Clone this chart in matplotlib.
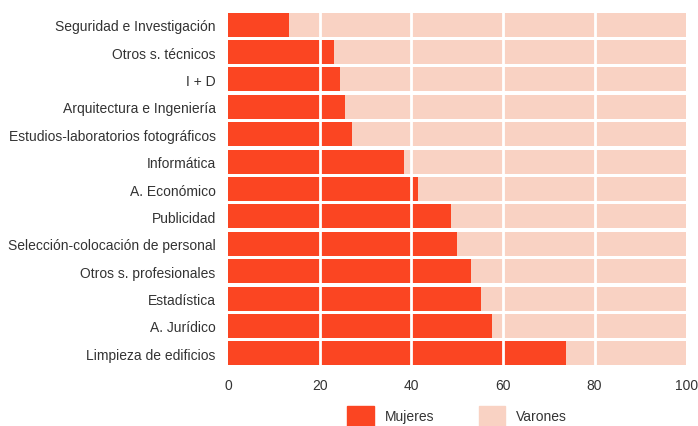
import numpy as np
from matplotlib import pyplot as plt
from matplotlib.patches import Patch

# categorias de arriba a abajo
sectores = ["Seguridad e Investigación", "Otros s. técnicos", "I + D",
            "Arquitectura e Ingeniería", "Estudios-laboratorios fotográficos",
            "Informática", "A. Económico", "Publicidad",
            "Selección-colocación de personal", "Otros s. profesionales",
            "Estadística", "A. Jurídico", "Limpieza de edificios"]
mujeres = [13.2, 23.0, 24.3, 25.5, 27.0, 38.4, 41.5, 48.6, 50.0, 53.1, 55.1, 57.5, 73.7]
varones = [100 - m for m in mujeres]
xticks = [0, 20, 40, 60, 80, 100]

rojo = "#fb4522"
rosa = "#f9d2c3"

plt.rcParams['font.family'] = ['Liberation Sans', 'DejaVu Sans']

fig = plt.figure(figsize=(6.98, 4.27), dpi=100)
ax = fig.add_axes([0.327, 0.138, 0.656, 0.834])

y = np.arange(len(sectores))
ax.barh(y, mujeres, height=0.88, color=rojo, zorder=2)
ax.barh(y, varones, left=mujeres, height=0.88, color=rosa, zorder=2)

for v in xticks[1:-1]:
    ax.axvline(v, color="white", lw=2, zorder=3)

ax.set_xlim(0, 100)
ax.set_ylim(len(sectores) - 0.5, -0.5)
ax.set_yticks(y)
ax.set_yticklabels(sectores, fontsize=10, color="#333333")
ax.set_xticks(xticks)
ax.set_xticklabels([str(v) for v in xticks], fontsize=10, color="#333333")
ax.tick_params(length=0, pad=8)
ax.tick_params(axis="y", pad=9)
for s in ax.spines.values():
    s.set_visible(False)

handles = [Patch(color=rojo, label="Mujeres"), Patch(color=rosa, label="Varones")]
fig.legend(handles=handles, loc="lower center", bbox_to_anchor=(0.655, -0.03), ncol=2,
           frameon=False, fontsize=10, handlelength=1.9, handleheight=1.9,
           columnspacing=3.2, handletextpad=0.8, labelcolor="#333333")

plt.savefig("out.png", dpi=100)
